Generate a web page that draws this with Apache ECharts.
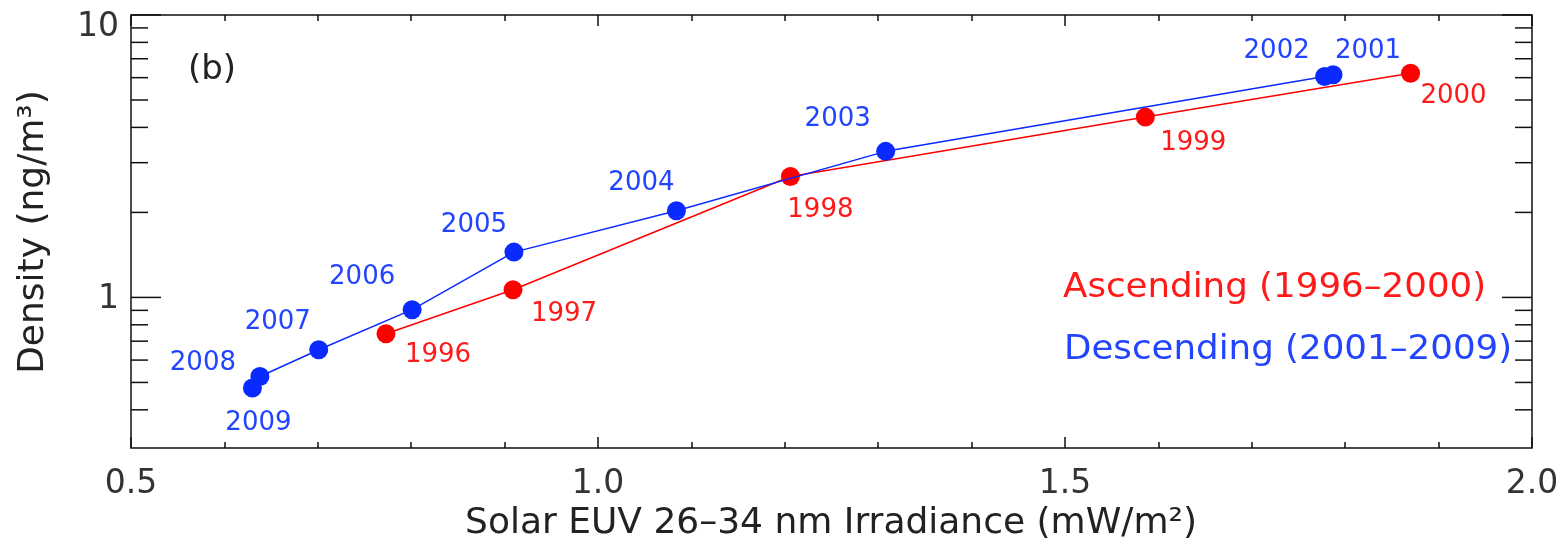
<!DOCTYPE html>
<html><head><meta charset="utf-8">
<script src="https://cdn.jsdelivr.net/npm/echarts@6/dist/echarts.min.js"></script>
<style>html,body{margin:0;padding:0;background:#fff}#c{width:1565px;height:551px}</style>
</head><body><div id="c"></div>
<script>
// ---- data ----
const ascYears = ['1996','1997','1998','1999','2000'];
const ascEUV = [0.773, 0.909, 1.206, 1.586, 1.870];
const ascDensity = [0.744, 1.065, 2.68, 4.35, 6.22];
const descYears = ['2001','2002','2003','2004','2005','2006','2007','2008','2009'];
const descEUV = [1.787, 1.778, 1.308, 1.084, 0.910, 0.801, 0.701, 0.638, 0.630];
const descDensity = [6.14, 6.06, 3.29, 2.027, 1.447, 0.905, 0.653, 0.525, 0.478];
const xTickLabels = ['0.5','1.0','1.5','2.0'];
const yMajorTicks = [1, 10];
const yMinorTicks = [0.4,0.5,0.6,0.7,0.8,0.9,2,3,4,5,6,7,8,9];
const yAxisMin = 0.293, yAxisMax = 10;

// ---- label placement (pixels, layout only) ----
const ascLabelOffset = [[52,22],[51,25],[30,34],[48,26],[43,23]];
const descLabelOffset = [[35,-24],[-48,-25],[-48,-32],[-35,-28],[-40,-27],[-50,-32],[-41,-27],[-57,-13],[6,35]];

const FONT = 'DejaVu Sans';
const RED = '#ff0000', BLUE = '#0a2aff';
const xMin = Number(xTickLabels[0]), xMax = Number(xTickLabels[xTickLabels.length-1]);
const xInterval = Number(xTickLabels[1]) - xMin;

function buildData(xs, ys, years, offs, txtColor){
  return xs.map((x,i)=>({
    value:[x, ys[i]], name: years[i],
    label:{show:true, formatter: years[i], position:'inside', offset: offs[i],
      align:'center', verticalAlign:'middle', color: txtColor, fontSize:26, fontFamily:FONT}
  }));
}

const yTickData = yMajorTicks.map(v=>[xMin, v, 1]).concat(yMinorTicks.map(v=>[xMin, v, 0]));

const chart = echarts.init(document.getElementById('c'), null, {renderer:'canvas'});
const axisTickCommon = {show:true, inside:true, length:11, lineStyle:{color:'#111', width:1.5}};
const minorTickCommon = {show:true, splitNumber:5, length:6, lineStyle:{color:'#111', width:1.5}};
chart.setOption({
  animation:false,
  backgroundColor:'#fff',
  grid:{left:131, right:33, top:15, bottom:103, show:true, borderColor:'#111', borderWidth:1.5, backgroundColor:'transparent'},
  xAxis:[{
    type:'value', min:xMin, max:xMax, interval:xInterval, position:'bottom',
    axisLine:{show:false}, splitLine:{show:false},
    axisTick:axisTickCommon, minorTick:minorTickCommon,
    axisLabel:{show:true, margin:20, fontSize:33, fontFamily:FONT, color:'#333',
      formatter:(v)=>v.toFixed(1)}
  },{
    type:'value', min:xMin, max:xMax, interval:xInterval, position:'top',
    axisLine:{show:false}, splitLine:{show:false},
    axisTick:axisTickCommon, minorTick:minorTickCommon,
    axisLabel:{show:false}
  }],
  yAxis:[{
    type:'log', logBase:10, min:yAxisMin, max:yAxisMax,
    axisLine:{show:false}, splitLine:{show:false}, axisTick:{show:false}, minorTick:{show:false},
    axisLabel:{show:true, margin:12, fontSize:33, fontFamily:FONT, color:'#333',
      formatter:(v)=>{
        const lg = Math.log10(v);
        if (Math.abs(lg - Math.round(lg)) > 1e-6 || Math.round(lg) < 0) return '';
        const s = String(Math.round(v));
        return Math.round(v) === yAxisMax ? '{t|' + s + '}' : '{n|' + s + '}';
      },
      rich:{
        t:{fontSize:33, fontFamily:FONT, color:'#333', padding:[24,0,0,0]},
        n:{fontSize:33, fontFamily:FONT, color:'#333', padding:[4,0,0,0]}
      }
    }
  }],
  series:[
    {
      type:'custom', silent:true, clip:false, z:5,
      data: yTickData,
      renderItem:(params, api)=>{
        const v = api.value(1), major = api.value(2);
        const L = api.coord([xMin, v]), R = api.coord([xMax, v]);
        const len = major ? 30 : 17;
        const st = {stroke:'#111', lineWidth:1.5};
        return {type:'group', children:[
          {type:'line', shape:{x1:L[0], y1:L[1], x2:L[0]+len, y2:L[1]}, style:st},
          {type:'line', shape:{x1:R[0]-len, y1:R[1], x2:R[0], y2:R[1]}, style:st}
        ]};
      }
    },
    {
      name:'Ascending', type:'line', z:3,
      data: buildData(ascEUV, ascDensity, ascYears, ascLabelOffset, '#ff1a1a'),
      symbol:'circle', symbolSize:19, showAllSymbol:true,
      itemStyle:{color:RED}, lineStyle:{color:RED, width:1.5}
    },
    {
      name:'Descending', type:'line', z:4,
      data: buildData(descEUV, descDensity, descYears, descLabelOffset, '#2244ff'),
      symbol:'circle', symbolSize:19, showAllSymbol:true,
      itemStyle:{color:BLUE}, lineStyle:{color:BLUE, width:1.5}
    }
  ],
  graphic:[
    {type:'text', x:212, y:70, style:{text:'(b)', font:'34px "DejaVu Sans"', fill:'#222', align:'center', verticalAlign:'middle'}},
    {type:'text', x:1063, y:288, scaleX:1.08, style:{text:'Ascending (1996\u20132000)', font:'33px "DejaVu Sans"', fill:'#ff1a1a', align:'left', verticalAlign:'middle'}},
    {type:'text', x:1064, y:350, scaleX:1.08, style:{text:'Descending (2001\u20132009)', font:'33px "DejaVu Sans"', fill:'#2244ff', align:'left', verticalAlign:'middle'}},
    {type:'text', x:831, y:524, style:{text:'Solar EUV 26\u201334 nm Irradiance (mW/m\u00b2)', font:'36px "DejaVu Sans"', fill:'#222', align:'center', verticalAlign:'middle'}},
    {type:'text', x:34, y:232, rotation:Math.PI/2, style:{text:'Density (ng/m\u00b3)', font:'36px "DejaVu Sans"', fill:'#222', align:'center', verticalAlign:'middle'}}
  ]
});
</script>
</body></html>
